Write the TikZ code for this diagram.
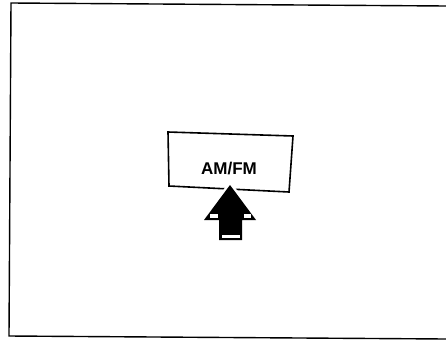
\documentclass[tikz,border=0pt]{standalone}
\usepackage{fontspec}
\setmainfont{Liberation Sans}
\begin{document}
\begin{tikzpicture}[x=1pt,y=-1pt,
  frameline/.style={line width=1.4pt,black},
  boxline/.style={line width=1.6pt,black,line join=miter},
  label/.style={font=\fontsize{17}{19}\selectfont\bfseries,inner sep=0pt}]
\useasboundingbox (0,0) rectangle (446,340);
% frame (left, top, bottom; right side open)
\coordinate (ftr) at (446,6);
\coordinate (ftl) at (11,3);
\coordinate (fbl) at (9,336);
\coordinate (fbr) at (446,339);
\draw[frameline] (ftr) -- (ftl) -- (fbl) -- (fbr);
% skewed label box
\coordinate (btl) at (168,132);
\coordinate (btr) at (293,136);
\coordinate (bbr) at (289,192);
\coordinate (bbl) at (169,186);
\draw[boxline] (btl) -- (btr) -- (bbr) -- (bbl) -- cycle;
\node[label] (am) at (229,169) {AM/FM};
% arrow
\coordinate (tip) at (230,185);
\path[draw=white,line width=5pt,line join=miter]
  (tip) -- (256,220) -- (242,220) -- (242,240) -- (219,240) -- (219,220) -- (204,220) -- cycle;
\fill[black] (tip) -- (256,220) -- (242,220) -- (242,240) -- (219,240) -- (219,220) -- (204,220) -- cycle;
\fill[white] (209.5,213.5) rectangle (217.5,217.5);
\fill[white] (243.5,213.5) rectangle (250.5,217.5);
\fill[white] (221.5,234.5) rectangle (239.5,238);
\end{tikzpicture}
\end{document}
